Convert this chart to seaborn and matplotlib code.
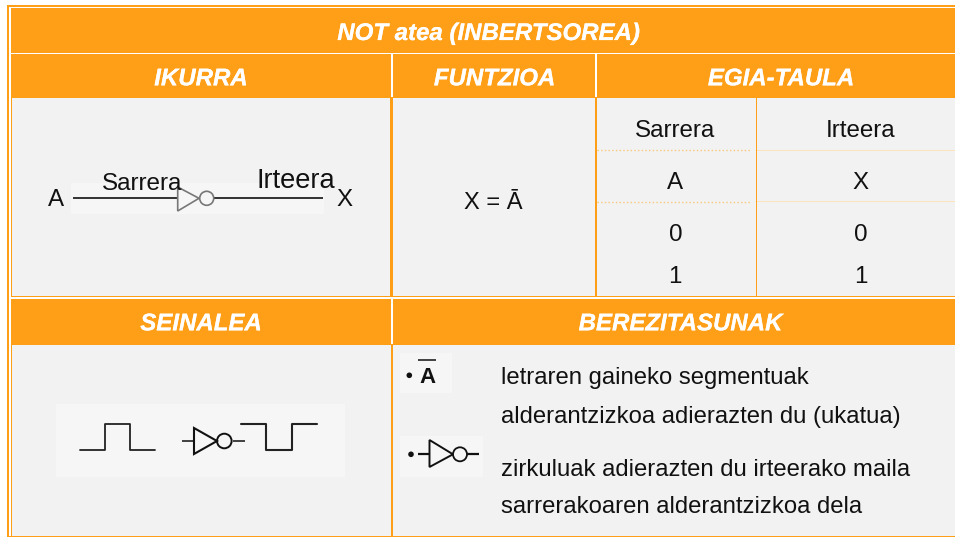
import matplotlib
matplotlib.use("Agg")
import matplotlib.pyplot as plt
import matplotlib.patheffects as pe
from matplotlib.patches import Rectangle, Circle, Polygon
import seaborn as sns
import pandas as pd

ORANGE = "#FF9F17"
BODY = "#F2F2F2"
PATCH = "#F6F6F6"
DARK = "#111111"

title = "NOT atea (INBERTSOREA)"
headers_row1 = ["IKURRA", "FUNTZIOA", "EGIA-TAULA"]
headers_row2 = ["SEINALEA", "BEREZITASUNAK"]
truth_head = ["Sarrera", "Irteera"]
truth_names = ["A", "X"]
truth_a = ["0", "1"]
truth_x = ["0", "1"]
func = "X = Ā"
desc = ["letraren gaineko segmentuak",
        "alderantzizkoa adierazten du (ukatua)",
        "zirkuluak adierazten du irteerako maila",
        "sarrerakoaren alderantzizkoa dela"]
wave_in = [0, 0, 1, 1, 0, 0]
wave_out = [1, 1, 0, 0, 1, 1]
wave_t = [0, 1, 1, 2, 2, 3]

sns.set_theme(style="white")
plt.rcParams["font.family"] = ["Liberation Sans", "DejaVu Sans"]

fig = plt.figure(figsize=(9.55, 5.37), dpi=100, facecolor="white")
ax = fig.add_axes([0, 0, 1, 1])
ax.set_xlim(0, 955)
ax.set_ylim(537, 0)
ax.axis("off")


def rect(x0, y0, x1, y1, c, z=1):
    ax.add_patch(Rectangle((x0, y0), x1 - x0, y1 - y0, fc=c, ec="none", zorder=z))


def line(xs, ys, c=DARK, lw=1.2, z=3, ls="-"):
    ax.plot(xs, ys, color=c, lw=lw, zorder=z, ls=ls, solid_capstyle="butt")


def txt(x, y, s, size=17.4, **kw):
    kw.setdefault("color", DARK)
    kw.setdefault("ha", "center")
    ax.text(x, y, s, fontsize=size, va="baseline", zorder=5, **kw)


def head(x, y, s):
    t = ax.text(x, y, s, fontsize=17.3, color="white", weight="bold", style="italic",
                ha="center", va="baseline", zorder=5)
    t.set_path_effects([pe.withStroke(linewidth=0.15, foreground="white")])


def wave(vals, x0, x1, y_low, y_high, lw):
    df = pd.DataFrame({"t": wave_t, "v": vals})
    span = max(wave_t)
    df["x"] = x0 + df["t"] / span * (x1 - x0)
    df["y"] = y_low + df["v"] * (y_high - y_low)
    sns.lineplot(data=df, x="x", y="y", sort=False, estimator=None, color="#222222",
                 lw=lw, ax=ax, zorder=4, legend=False)
    ax.set_xlabel("")
    ax.set_ylabel("")


# frame
rect(7, 5, 955, 537, ORANGE)
rect(8.5, 7, 955, 536, "white")
rect(11, 8, 955, 536, ORANGE, 1.5)
# header bands
rect(11, 8, 955, 52.5, ORANGE, 2)
rect(11, 52.5, 955, 54, "white", 2)
rect(11, 54, 955, 97, ORANGE, 2)
rect(390.5, 54, 392.5, 97, "white", 2.1)
rect(594.5, 54, 596.5, 97, "white", 2.1)
# body upper
rect(12, 98, 390, 295.5, BODY, 2)
rect(393, 98, 595, 295.5, BODY, 2)
rect(596, 98, 955, 295.5, BODY, 2)
rect(11, 295.5, 955, 297, ORANGE, 2)
rect(11, 297, 955, 298.5, "white", 2)
rect(390.5, 298.5, 392.5, 344, "white", 2.1)
# body lower
rect(12, 345, 391, 535.5, BODY, 2)
rect(393, 345, 955, 535.5, BODY, 2)
rect(391, 345, 392.5, 536, ORANGE, 2)
rect(595, 98, 596.5, 296, ORANGE, 2.5)
rect(755.5, 98, 757, 296, ORANGE, 2.5)
rect(391, 98, 392.5, 296, ORANGE, 2.2)
line([597, 751], [150.2, 150.2], "#F7C878", 1.0, ls=":")
rect(757, 149.7, 955, 150.6, "#FCE3BD", 3)
line([597, 751], [201.8, 201.8], "#F7C878", 1.0, ls=":")
rect(757, 201.3, 955, 202.2, "#FCE3BD", 3)

# headers
head(488.5, 40, title)
head(201, 85.3, headers_row1[0])
head(494.5, 85.3, headers_row1[1])
head(781, 85.3, headers_row1[2])
head(201, 330.3, headers_row2[0])
head(680.5, 330.3, headers_row2[1])

# symbol panel
rect(71, 182.5, 324, 213.5, PATCH, 2.5)
line([72.5, 177], [198.3, 198.3])
line([214, 323], [198.3, 198.3])
ax.add_patch(Polygon([(177.7, 187), (177.7, 211), (199, 198.3)], fc="none", ec="#777777", lw=1.2, zorder=4))
ax.add_patch(Circle((206.7, 198.3), 7, fc="none", ec="#777777", lw=1.2, zorder=4))
txt(56, 206, truth_names[0])
txt(344.5, 206, truth_names[1])
txt(142, 190, truth_head[0], size=17.5)
txt(296, 188, truth_head[1], size=19.6)

# function and truth table
txt(493.5, 209, func, size=17)
txt(675.3, 136.7, truth_head[0])
txt(860.5, 136.7, truth_head[1])
txt(675.3, 188.7, truth_names[0])
txt(860.5, 188.7, truth_names[1])
txt(675.3, 241, truth_a[0])
txt(860.5, 241, truth_x[0])
txt(675.3, 282.7, truth_a[1])
txt(860.5, 282.7, truth_x[1])

# signal panel
rect(56, 404, 345, 477, PATCH, 2.5)
wave(wave_in, 80, 155, 450, 423.7, 1.3)
wave(wave_out, 241, 317, 450, 423.7, 1.5)
line([182, 194], [441, 441], "#222222", 1.2)
line([232.5, 245], [441, 441], "#222222", 1.2)
ax.add_patch(Polygon([(194, 428), (194, 454), (217, 441)], fc="none", ec="#111111", lw=1.5, zorder=4))
ax.add_patch(Circle((224.3, 441), 7.3, fc="none", ec="#111111", lw=1.4, zorder=4))

# properties panel
rect(400, 353, 452, 393, PATCH, 2.5)
rect(400, 436, 483, 477, PATCH, 2.5)
line([418, 436], [360, 360], "#333333", 1.3)
ax.text(427, 383, "A", fontsize=16, weight="bold", color=DARK, ha="center", va="baseline", zorder=5)
ax.add_patch(Circle((409.3, 375.3), 2.8, fc=DARK, ec="none", zorder=5))
ax.add_patch(Circle((411, 454.3), 2.8, fc=DARK, ec="none", zorder=5))
line([418, 430], [454.3, 454.3], "#111111", 1.6)
line([467, 479], [454.3, 454.3], "#111111", 1.6)
ax.add_patch(Polygon([(429.5, 440), (429.5, 467), (453, 454.3)], fc="none", ec="#111111", lw=1.4, zorder=4))
ax.add_patch(Circle((460, 454.3), 7, fc="none", ec="#111111", lw=1.3, zorder=4))
for y, s in zip([384, 422.7, 476, 513.3], desc):
    txt(501, y, s, size=17.2, ha="left")

fig.savefig("out.png", dpi=100, facecolor="white")
